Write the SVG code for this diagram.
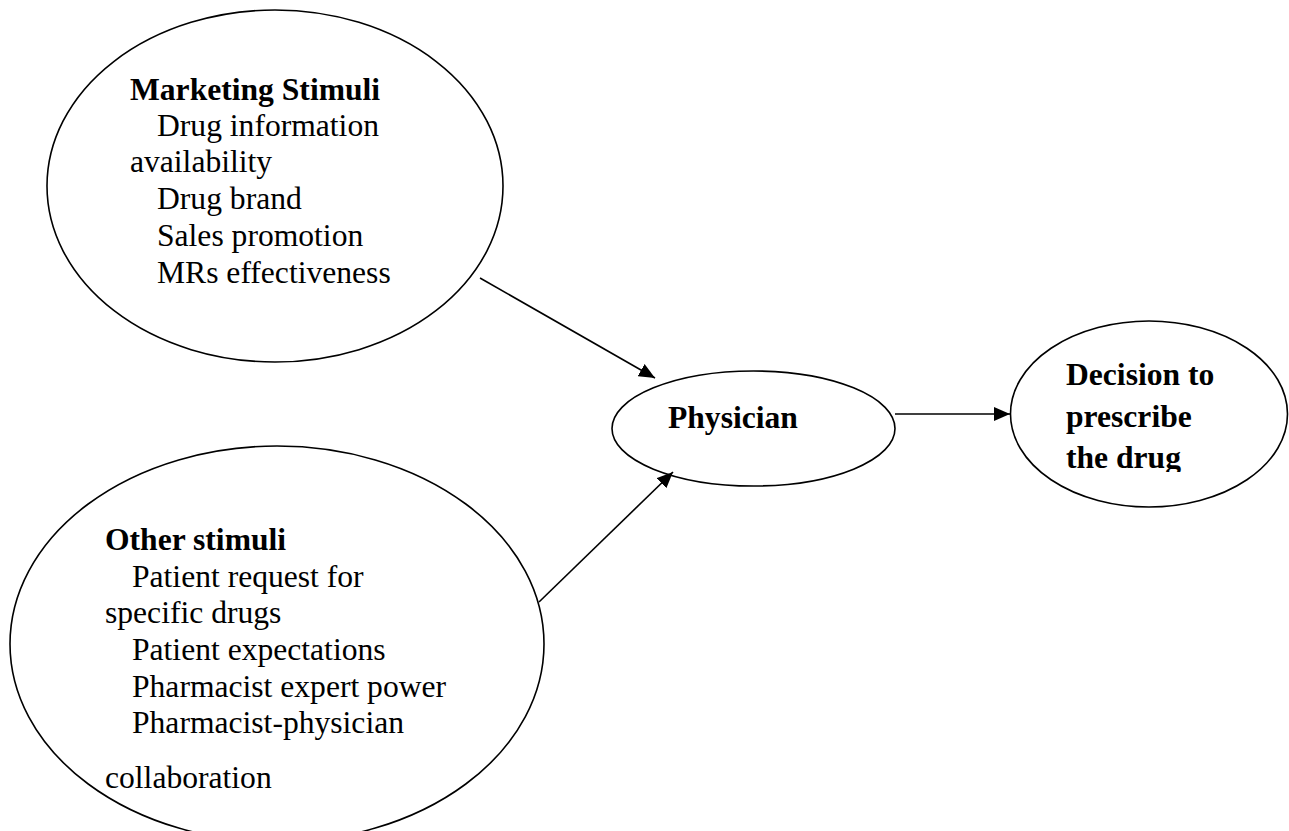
<svg xmlns="http://www.w3.org/2000/svg" width="1289" height="831" viewBox="0 0 1289 831">
<style>
.node{fill:#fff;stroke:#000;stroke-width:1.6}
.t{font-family:"Liberation Serif","Times New Roman",serif;font-size:31.6px;fill:#000}
.b{font-weight:bold}
.conn{stroke:#000;stroke-width:1.6;fill:none}
</style>
<defs>
<marker id="ah" viewBox="0 0 16 14" refX="16" refY="7" markerWidth="16" markerHeight="14" markerUnits="userSpaceOnUse" orient="auto">
<path d="M0,0 L16,7 L0,14 Z" fill="#000"/>
</marker>
<clipPath id="clipDec"><rect x="1010" y="322" width="279" height="150"/></clipPath>
</defs>
<rect width="1289" height="831" fill="#fff"/>
<g id="marketing">
<ellipse class="node" cx="275" cy="186" rx="228" ry="176"/>
<text class="t b" x="130" y="100">Marketing Stimuli</text>
<text class="t" x="157" y="136">Drug information</text>
<text class="t" x="130" y="172">availability</text>
<text class="t" x="157" y="209">Drug brand</text>
<text class="t" x="157" y="246">Sales promotion</text>
<text class="t" x="157" y="283">MRs effectiveness</text>
</g>
<g id="other">
<ellipse class="node" cx="277" cy="644" rx="267" ry="198"/>
<text class="t b" x="105" y="550">Other stimuli</text>
<text class="t" x="132" y="587">Patient request for</text>
<text class="t" x="105" y="623">specific drugs</text>
<text class="t" x="132" y="660">Patient expectations</text>
<text class="t" x="132" y="697">Pharmacist expert power</text>
<text class="t" x="132" y="733">Pharmacist-physician</text>
<text class="t" x="105" y="788">collaboration</text>
</g>
<g id="physician">
<ellipse class="node" cx="753.5" cy="428.5" rx="141.5" ry="57.5"/>
<text class="t b" x="668" y="428">Physician</text>
</g>
<g id="decision">
<ellipse class="node" cx="1149" cy="414" rx="138.5" ry="93"/>
<g clip-path="url(#clipDec)">
<text class="t b" x="1066" y="385">Decision to</text>
<text class="t b" x="1066" y="427">prescribe</text>
<text class="t b" x="1066" y="468">the drug</text>
</g>
</g>
<g id="connectors">
<line class="conn" x1="539" y1="602" x2="673" y2="472" marker-end="url(#ah)"/>
<line class="conn" x1="480" y1="278" x2="655" y2="378" marker-end="url(#ah)"/>
<line class="conn" x1="895" y1="414" x2="1010" y2="414" marker-end="url(#ah)"/>
</g>
</svg>
